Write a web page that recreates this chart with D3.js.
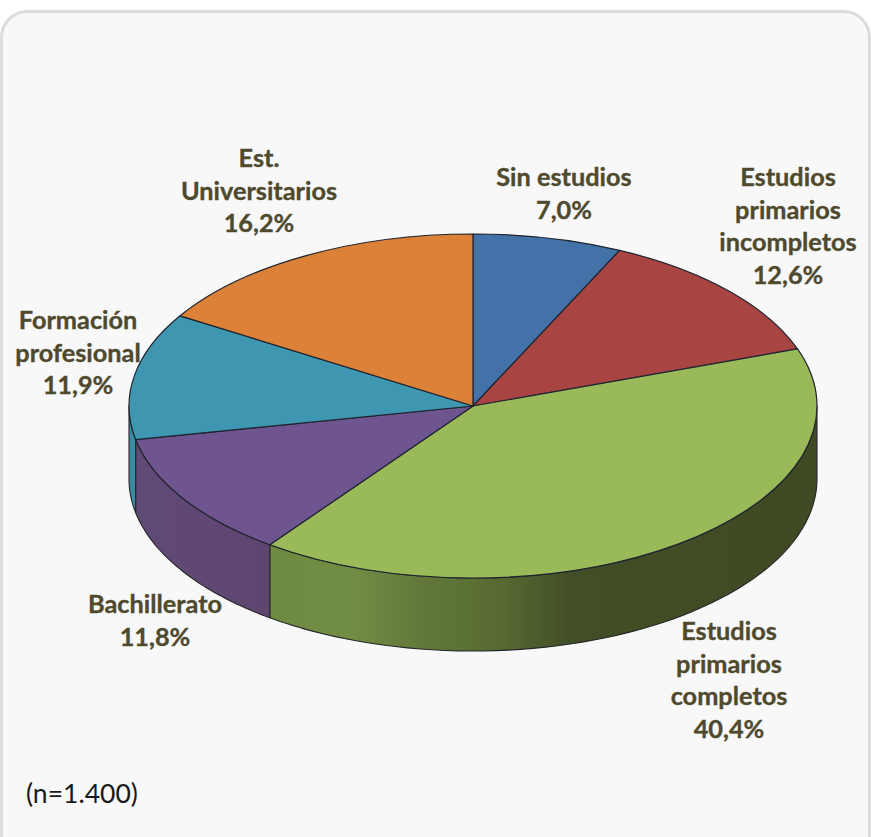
<!DOCTYPE html>
<html><head><meta charset="utf-8">
<script src="https://cdn.jsdelivr.net/npm/d3@7"></script>
<style>html,body{margin:0;padding:0;background:#fff}svg{display:block}</style>
</head><body><svg id="c" width="871" height="837"></svg>
<script>
const categories = ["Sin estudios","Estudios primarios incompletos","Estudios primarios completos","Bachillerato","Formación profesional","Est. Universitarios"];
const values = [7.0,12.6,40.4,11.8,11.9,16.2];
const valueLabels = ["7,0%","12,6%","40,4%","11,8%","11,9%","16,2%"];
const labelLines = [["Sin estudios"],["Estudios","primarios","incompletos"],["Estudios","primarios","completos"],["Bachillerato"],["Formación","profesional"],["Est.","Universitarios"]];
const topColors = ["#4272a8","#a84442","#9aba5a","#6f5590","#3f96b0","#db8238"];
const wallStops = [
 [],[],
 [[0,"#6e8a40"],[0.145,"#728d44"],[0.27,"#63793a"],[0.42,"#576b32"],[0.55,"#424e26"],[1,"#3f4a24"]],
 [[0,"#604a76"],[1,"#5e4670"]],
 [[0,"#3a8aa2"],[1,"#3a8aa2"]],
 []
];
const labelX = [564,788,729,155,78,259];
const labelY = [186,186,640,613,329,167];

const W=871,H=837,cx=473,cy=406,rx=344,ry=172,depth=73,lineH=32.6;
const svg=d3.select("#c");
const defs=svg.append("defs");
svg.append("rect").attr("x",1.5).attr("y",11.5).attr("width",W-3).attr("height",H+20).attr("rx",26)
  .attr("fill","#f8f8f8").attr("stroke","#dcdcdc").attr("stroke-width",3);

const arcs=d3.pie().sort(null).value(d=>d)(values);
const px=d3.scaleLinear().domain([-1,1]).range([cx-rx,cx+rx]);
const py=d3.scaleLinear().domain([-1,1]).range([cy-ry,cy+ry]);
const pt=(a,dz=0)=>[px(Math.sin(a)),py(-Math.cos(a))+dz];
const line=d3.line();

// walls
const wallG=svg.append("g");
arcs.forEach((a,i)=>{
  const s=Math.max(a.startAngle,Math.PI/2), e=Math.min(a.endAngle,Math.PI*1.5);
  if(e<=s) return;
  const ang=d3.range(0,61).map(k=>s+(e-s)*k/60);
  const pts=ang.map(t=>pt(t)).concat(ang.slice().reverse().map(t=>pt(t,depth)));
  const x0=d3.min(pts,p=>p[0]),x1=d3.max(pts,p=>p[0]);
  const id="w"+i;
  const g=defs.append("linearGradient").attr("id",id).attr("gradientUnits","userSpaceOnUse")
    .attr("x1",x0).attr("x2",x1).attr("y1",0).attr("y2",0);
  wallStops[i].forEach(t=>g.append("stop").attr("offset",t[0]).attr("stop-color",t[1]));
  wallG.append("path").attr("d",line(pts)+"Z").attr("fill",`url(#${id})`)
    .attr("stroke","#26262a").attr("stroke-width",1.1).attr("stroke-linejoin","round");
});

// top surface
const arcGen=d3.arc().innerRadius(0).outerRadius(rx);
svg.append("g").attr("transform",`translate(${cx},${cy}) scale(1,${ry/rx})`)
 .selectAll("path").data(arcs).join("path")
 .attr("d",arcGen).attr("fill",(d,i)=>topColors[i])
 .attr("stroke","#1f2430").attr("stroke-width",1.2).attr("stroke-linejoin","round")
 .attr("vector-effect","non-scaling-stroke");

// labels
const lab=svg.append("g").attr("font-family","Lato, 'Open Sans', sans-serif").attr("font-weight",700)
 .attr("font-size",25.3).attr("fill","#4f4a2e").attr("text-anchor","middle")
 .attr("stroke","#4f4a2e").attr("stroke-width",0.35);
categories.forEach((c,i)=>{
  const t=lab.append("text").attr("data-category",c);
  labelLines[i].concat([valueLabels[i]]).forEach((l,k)=>{
    t.append("tspan").attr("x",labelX[i]).attr("y",labelY[i]+k*lineH).text(l);
  });
});
svg.append("text").attr("x",26).attr("y",803).attr("font-family","Lato, 'Open Sans', sans-serif")
 .attr("font-size",26.5).attr("fill","#1a1a1a").text("(n=1.400)");
</script></body></html>
